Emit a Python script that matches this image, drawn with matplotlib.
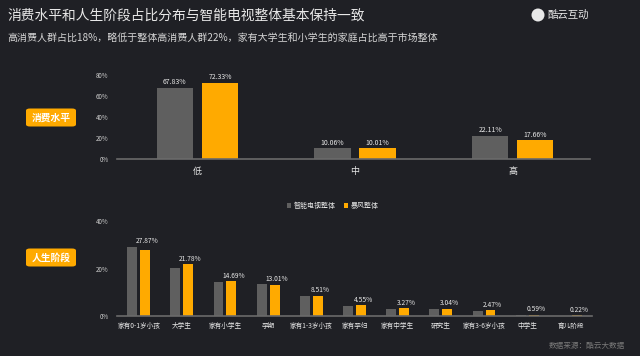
import matplotlib
matplotlib.use("Agg")
import matplotlib.pyplot as plt
import numpy as np
from matplotlib.patches import FancyBboxPatch, Ellipse

plt.rcParams['font.family'] = ['Noto Sans CJK SC', 'DejaVu Sans']

# data
level_cats = ["低", "中", "高"]
level_tv = [67.83, 10.06, 22.11]
level_bf = [72.33, 10.01, 17.66]

stage_cats = ["家有0-1岁小孩", "大学生", "家有小学生", "孕期", "家有1-3岁小孩", "家有孕妇",
              "家有中学生", "研究生", "家有3-6岁小孩", "中学生", "育儿阶段"]
stage_tv = [29.2, 20.3, 14.2, 13.3, 8.6, 4.3, 2.9, 3.0, 2.0, 0.5, 0.2]
stage_bf = [27.87, 21.78, 14.69, 13.01, 8.51, 4.55, 3.27, 3.04, 2.47, 0.59, 0.22]

series_names = ["智能电视整体", "暴风整体"]

BG = "#1f2025"
GRAY = "#5f5f5f"
ORANGE = "#ffaa00"
TXT = "#e8e8e8"

W, H = 640, 356
fig = plt.figure(figsize=(W / 100, H / 100), dpi=100, facecolor=BG)

def px(x0, y0, x1, y1):
    return [x0 / W, 1 - y1 / H, (x1 - x0) / W, (y1 - y0) / H]

def style(ax, ymax, step):
    ax.set_facecolor("none")
    for s in ["top", "right", "left"]:
        ax.spines[s].set_visible(False)
    ax.spines["bottom"].set_color("#6a6a6a")
    ax.spines["bottom"].set_linewidth(1.2)
    ax.set_ylim(0, ymax)
    ax.set_yticks(np.arange(0, ymax + 1, step))
    ax.set_yticklabels([f"{int(v)}%" for v in np.arange(0, ymax + 1, step)])
    ax.tick_params(axis="y", length=0, labelsize=4.5, labelcolor="#cfcfcf", pad=6)
    ax.tick_params(axis="x", length=0, labelcolor=TXT)

# top chart
ax1 = fig.add_axes(px(117, 75, 590, 159))
x = np.arange(len(level_cats))
b1 = ax1.bar(x - 0.143, level_tv, 0.23, color=GRAY)
b2 = ax1.bar(x + 0.143, level_bf, 0.23, color=ORANGE)
for bars, vals in ((b1, level_tv), (b2, level_bf)):
    for r, v in zip(bars, vals):
        ax1.text(r.get_x() + r.get_width() / 2, v + 1.5, f"{v:.2f}%", ha="center", va="bottom",
                 fontsize=5, color=TXT)
ax1.set_xlim(-0.51, 2.49)
ax1.set_xticks(x)
ax1.set_xticklabels(level_cats, fontsize=6.5)
ax1.tick_params(axis="x", pad=6)
style(ax1, 80, 20)

# bottom chart
ax2 = fig.add_axes(px(117, 221, 592, 316))
x2 = np.arange(len(stage_cats))
c1 = ax2.bar(x2 - 0.15, stage_tv, 0.23, color=GRAY, label=series_names[0])
c2 = ax2.bar(x2 + 0.15, stage_bf, 0.23, color=ORANGE, label=series_names[1])
for i, (r, v) in enumerate(zip(c2, stage_bf)):
    ax2.text(r.get_x() + r.get_width() / 2 + 0.05, max(v, stage_tv[i]) + 0.6,
             f"{v:.2f}%", ha="center", va="bottom", fontsize=4.8, color=TXT)
ax2.set_xlim(-0.5, 10.5)
ax2.set_xticks(x2)
ax2.set_xticklabels(stage_cats, fontsize=4.8)
ax2.tick_params(axis="x", pad=4)
style(ax2, 40, 20)

fig.legend(handles=[c1, c2], labels=series_names, loc="center", bbox_to_anchor=(333 / W, 1 - 206 / H),
           ncol=2, frameon=False, fontsize=5, labelcolor=TXT, handlelength=0.6, handleheight=0.6,
           columnspacing=1.2, handletextpad=0.4)

# section tags
for label, yc in (("消费水平", 117.5), ("人生阶段", 257.5)):
    box = FancyBboxPatch((26 / W, 1 - (yc + 9) / H), 50 / W, 18 / H,
                         boxstyle="round,pad=0,rounding_size=0.006", transform=fig.transFigure,
                         facecolor=ORANGE, edgecolor="none")
    fig.patches.append(box)
    fig.text(51 / W, 1 - yc / H, label, ha="center", va="center", fontsize=7, color="white",
             fontweight="bold")

# titles
fig.text(7 / W, 1 - 16 / H, "消费水平和人生阶段占比分布与智能电视整体基本保持一致",
         fontsize=9.9, color=TXT, va="center")
fig.text(7 / W, 1 - 38 / H, "高消费人群占比18%，略低于整体高消费人群22%，家有大学生和小学生的家庭占比高于市场整体",
         fontsize=7.2, color="#d5d5d5", va="center")
fig.text(547 / W, 1 - 15 / H, "酷云互动", fontsize=7.5, color=TXT, va="center")
fig.patches.append(Ellipse((538 / W, 1 - 15 / H), 13 / W, 13 / H, transform=fig.transFigure,
                           facecolor="#e8e8e8", edgecolor="none"))
fig.text(625 / W, 1 - 346 / H, "数据来源：酷云大数据", fontsize=5.5, color="#7a7a7a",
         ha="right", va="center")

fig.savefig("out.png", dpi=100, facecolor=BG)
